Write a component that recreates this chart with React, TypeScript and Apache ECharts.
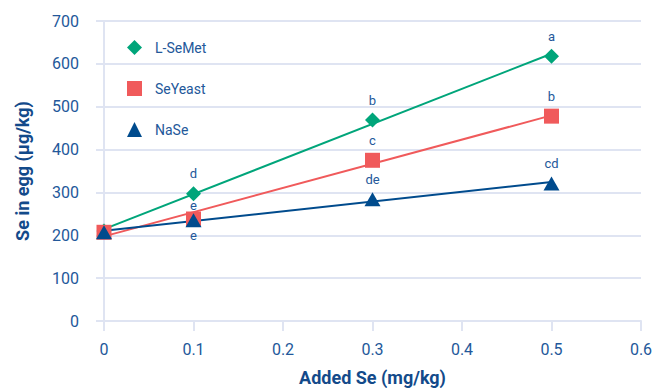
import React, { useEffect, useRef } from "react";
import * as echarts from "echarts";

const doses = [0, 0.1, 0.3, 0.5];
const seriesNames = ["L-SeMet", "SeYeast", "NaSe"];
const lSeMet = [210, 297, 469, 618];
const seYeast = [207, 238, 375, 478];
const naSe = [207, 235, 284, 321];
const lSeMetLetters = ["", "d", "b", "a"];
const seYeastLetters = ["", "e", "c", "b"];
const naSeLetters = ["", "e", "de", "cd"];
const naSeLabelBelow = [false, true, false, false];

const colors = ["#00a57a", "#f05a5b", "#004b8d"];
const symbols = ["diamond", "rect", "triangle"];
const textColor = "#23589a";
const titleColor = "#134a8a";
const gridColor = "#dfe4f2";

function fit(xs: number[], ys: number[]) {
  const n = xs.length;
  const mx = xs.reduce((a, b) => a + b, 0) / n;
  const my = ys.reduce((a, b) => a + b, 0) / n;
  let sxy = 0, sxx = 0;
  for (let i = 0; i < n; i++) {
    sxy += (xs[i] - mx) * (ys[i] - my);
    sxx += (xs[i] - mx) * (xs[i] - mx);
  }
  const slope = sxy / sxx;
  const b = my - slope * mx;
  const x0 = xs[0], x1 = xs[n - 1];
  return [[x0, b + slope * x0], [x1, b + slope * x1]];
}

export default function App() {
  const ref = useRef<HTMLDivElement>(null);
  useEffect(() => {
    if (!ref.current) return;
    const chart = echarts.init(ref.current, null, { renderer: "svg" });
    const allValues = [lSeMet, seYeast, naSe];
    const allLetters = [lSeMetLetters, seYeastLetters, naSeLetters];
    const font = "Roboto";
    const scatter = allValues.map((vals, si) => ({
      name: seriesNames[si],
      type: "scatter",
      symbol: symbols[si],
      symbolSize: si === 2 ? [16, 14] : 15,
      z: 10 + si,
      itemStyle: { color: colors[si], opacity: 1 },
      data: vals.map((v, i) => ({
        value: [doses[i], v],
        label: {
          show: allLetters[si][i] !== "",
          formatter: allLetters[si][i],
          position: si === 2 && naSeLabelBelow[i] ? "bottom" : "top",
          distance: si === 2 && naSeLabelBelow[i] ? 2 : (si === 1 && i === 1 ? 0 : 6),
          color: textColor,
          fontSize: 13,
          fontFamily: font,
        },
      })),
    }));
    const lines = allValues.map((vals, si) => ({
      name: seriesNames[si] + " trend",
      type: "line",
      symbol: "none",
      z: 5,
      lineStyle: { color: colors[si], width: 2 },
      data: fit(doses, vals),
    }));
    chart.setOption({
      animation: false,
      textStyle: { fontFamily: font },
      grid: { left: 104, right: 16, top: 21, bottom: 67, containLabel: false, outerBoundsMode: "none" },
      legend: {
        data: seriesNames.map((n, i) => ({ name: n, icon: symbols[i] })),
        orient: "vertical",
        left: 122,
        top: 35,
        itemWidth: 15,
        itemHeight: 15,
        itemGap: 26,
        textStyle: { color: textColor, fontSize: 14, fontFamily: font, padding: [0, 0, 0, 8] },
      },
      xAxis: {
        type: "value",
        min: 0,
        max: 0.6,
        interval: 0.1,
        name: "Added Se (mg/kg)",
        nameLocation: "middle",
        nameGap: 47,
        nameTextStyle: { color: titleColor, fontSize: 18, fontWeight: "bold", fontFamily: font },
        axisLine: { show: true, lineStyle: { color: gridColor, width: 2 } },
        axisTick: { show: true, length: 10, lineStyle: { color: gridColor, width: 2 } },
        axisLabel: { color: textColor, fontSize: 16, margin: 20, fontFamily: font },
        splitLine: { show: false },
      },
      yAxis: {
        type: "value",
        min: 0,
        max: 700,
        interval: 100,
        name: "Se in egg (µg/kg)",
        nameLocation: "middle",
        nameGap: 73,
        nameTextStyle: { color: titleColor, fontSize: 18, fontWeight: "bold", fontFamily: font },
        axisLine: { show: true, lineStyle: { color: gridColor, width: 2 } },
        axisTick: { show: true, length: 8, lineStyle: { color: gridColor, width: 2 } },
        axisLabel: { color: textColor, fontSize: 16, margin: 25, fontFamily: font },
        splitLine: { show: true, lineStyle: { color: gridColor, width: 2 } },
      },
      series: [...lines, ...scatter],
    });
    return () => chart.dispose();
  }, []);
  return <div ref={ref} style={{ width: 657, height: 388, position: "absolute", left: 0, top: 0 }} />;
}
